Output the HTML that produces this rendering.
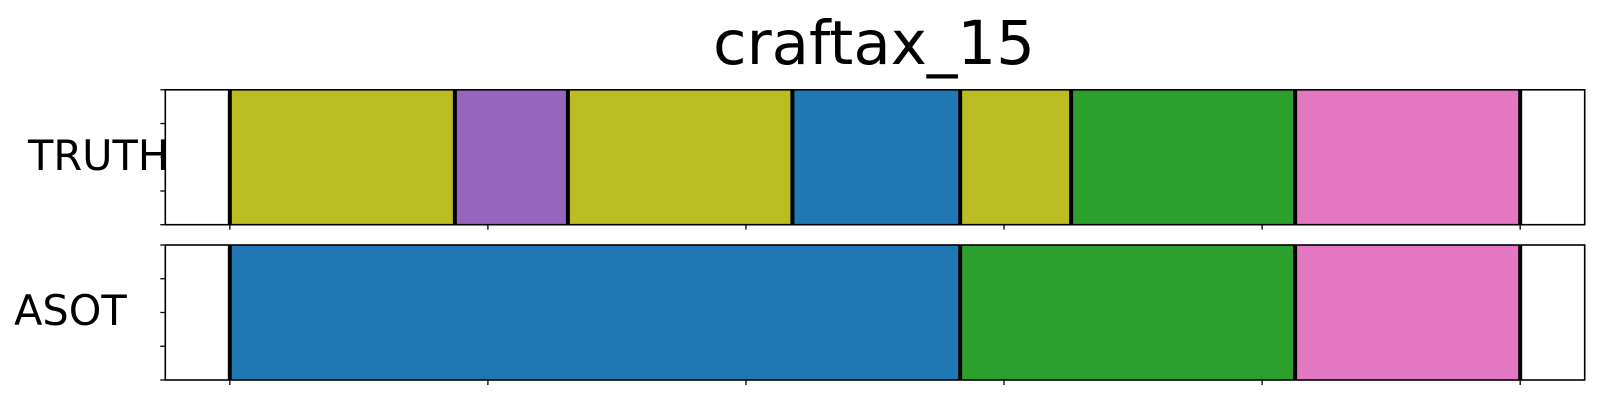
<!DOCTYPE html>
<html><head><meta charset="utf-8"><style>
html,body{margin:0;padding:0;background:#fff;}
svg{display:block;font-family:"DejaVu Sans","Liberation Sans",sans-serif;}
</style></head><body>
<svg id="chart" width="1600" height="400">
<text x="874" y="64" font-size="61" text-anchor="middle">craftax_15</text>
<g id="plots"></g>
</svg>
<script>
const rowLabels = ["TRUTH", "ASOT"];
const truthStarts = [0, 43.6, 65.5, 109, 141.5, 163, 206.4];
const truthEnds = [43.6, 65.5, 109, 141.5, 163, 206.4, 250];
const truthColors = ["#bcbd22", "#9467bd", "#bcbd22", "#1f77b4", "#bcbd22", "#2ca02c", "#e377c2"];
const asotStarts = [0, 141.5, 206.4];
const asotEnds = [141.5, 206.4, 250];
const asotColors = ["#1f77b4", "#2ca02c", "#e377c2"];
const xTicks = [0, 50, 100, 150, 200, 250];

const NS = "http://www.w3.org/2000/svg";
const xMin = -12.5, xMax = 262.5, left = 165.3, right = 1584.7;
const xs = v => left + (v - xMin) / (xMax - xMin) * (right - left);
const g = document.getElementById("plots");
function mk(tag, attrs, parent) {
  const e = document.createElementNS(NS, tag);
  for (const k in attrs) e.setAttribute(k, attrs[k]);
  (parent || g).appendChild(e);
  return e;
}
const panels = [
  {top: 89.8, bottom: 224.7, starts: truthStarts, ends: truthEnds, colors: truthColors, label: rowLabels[0], lx: 28, ly: 170},
  {top: 245, bottom: 380, starts: asotStarts, ends: asotEnds, colors: asotColors, label: rowLabels[1], lx: 14, ly: 325}
];
panels.forEach((p, pi) => {
  const pg = mk("g", {});
  
  
  p.starts.forEach((s, i) => {
    const r = mk("rect", {x: xs(s), y: p.top, width: xs(p.ends[i]) - xs(s), height: p.bottom - p.top, fill: p.colors[i]}, pg);
    
    
  });
  const bounds = [...new Set([...p.starts, ...p.ends])];
  bounds.forEach(b => {
    const l = mk("line", {x1: xs(b), x2: xs(b), y1: p.top, y2: p.bottom, stroke: "#000", "stroke-width": 4}, pg);
    
    
  });
  const fr = mk("rect", {x: left, y: p.top, width: right - left, height: p.bottom - p.top, fill: "none", stroke: "#000", "stroke-width": 1.6}, pg);
  
  
  xTicks.forEach(t => {
    const tk = mk("line", {x1: xs(t), x2: xs(t), y1: p.bottom, y2: p.bottom + 5, stroke: "#000", "stroke-width": 1.3}, pg);
    
    
  });
  for (let k = 0; k <= 4; k++) {
    const y = p.top + k * (p.bottom - p.top) / 4;
    const tk = mk("line", {x1: left - 5, x2: left, y1: y, y2: y, stroke: "#000", "stroke-width": 1.3}, pg);
    
    
  }
  const tx = mk("text", {x: p.lx, y: p.ly, "font-size": 41.5}, pg);
  tx.textContent = p.label;
  
  
});
</script>
</body></html>
